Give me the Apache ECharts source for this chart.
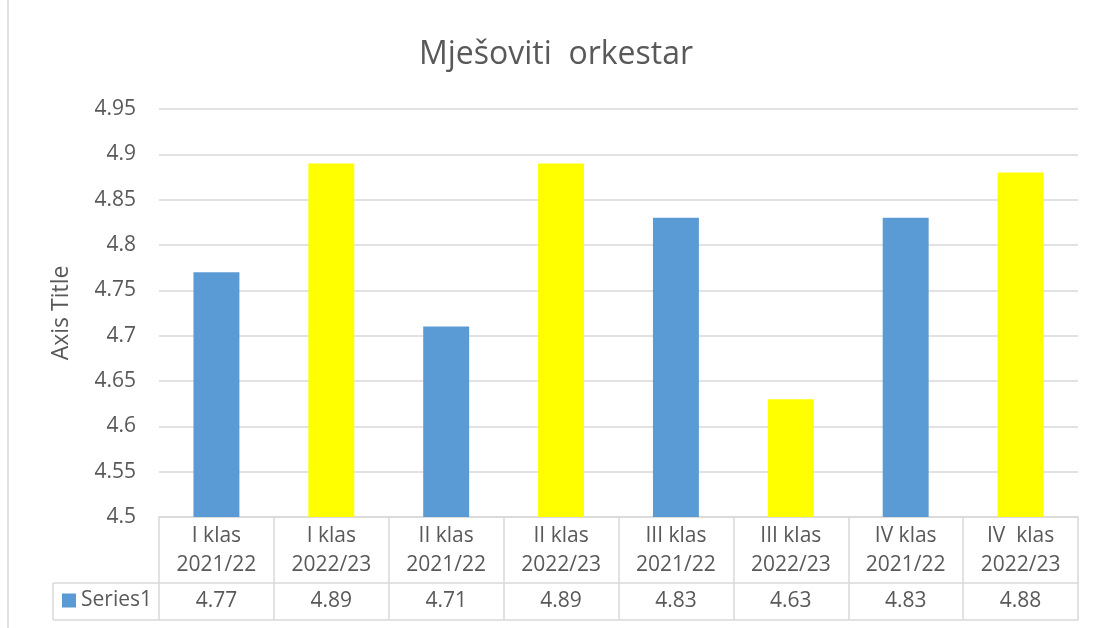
<!DOCTYPE html>
<html>
<head>
<meta charset="utf-8">
<script src="https://cdn.jsdelivr.net/npm/echarts@6/dist/echarts.min.js"></script>
<style>
html,body{margin:0;padding:0;background:#fff;}
#c{width:1094px;height:628px;}
</style>
</head>
<body>
<div id="c"></div>
<script>
const titleText = 'Mješoviti  orkestar';
const categories = ['I klas\n2021/22', 'I klas\n2022/23', 'II klas\n2021/22', 'II klas\n2022/23', 'III klas\n2021/22', 'III klas\n2022/23', 'IV klas\n2021/22', 'IV  klas\n2022/23'];
const values = [4.77, 4.89, 4.71, 4.89, 4.83, 4.63, 4.83, 4.88];
const seriesName = 'Series1';
const yMin = 4.5, yMax = 4.95, yStep = 0.05;

const FONT = '"Open Sans", sans-serif';
const TXT = '#595959';
const LINE = '#d9d9d9';
const BLUE = '#5B9BD5';
const YELLOW = '#FFFF00';

const chart = echarts.init(document.getElementById('c'), null, {renderer: 'canvas'});
chart.setOption({
  backgroundColor: '#ffffff',
  animation: false,
  textStyle: {fontFamily: FONT},
  title: {
    text: titleText,
    left: 556, top: 39, textAlign: 'center', padding: 0,
    textStyle: {fontFamily: FONT, fontSize: 32, fontWeight: 'normal', color: TXT}
  },
  legend: {
    data: [seriesName],
    left: 62, top: 590, padding: 0,
    icon: 'rect', itemWidth: 14, itemHeight: 14,
    textStyle: {fontFamily: FONT, fontSize: 21, color: TXT}
  },
  grid: {left: 159, right: 16, top: 109, height: 408},
  xAxis: [
    {
      type: 'category', data: categories, gridIndex: 0, position: 'bottom',
      axisLine: {show: true, lineStyle: {color: LINE, width: 1.5}},
      axisTick: {show: true, length: 103, lineStyle: {color: LINE, width: 1.5}},
      axisLabel: {fontFamily: FONT, fontSize: 21, lineHeight: 29, color: TXT, margin: 5, interval: 0}
    },
    {
      type: 'category', data: values.map(v => v.toFixed(2)), gridIndex: 0, position: 'bottom', offset: 66,
      axisLine: {show: true, lineStyle: {color: LINE, width: 1.5}},
      axisTick: {show: false},
      axisLabel: {fontFamily: FONT, fontSize: 21, lineHeight: 24, color: TXT, margin: 6, interval: 0}
    },
    {
      type: 'category', data: categories, gridIndex: 0, position: 'bottom', offset: 103,
      axisLine: {show: true, lineStyle: {color: LINE, width: 1.5}},
      axisTick: {show: false},
      axisLabel: {show: false}
    }
  ],
  yAxis: {
    type: 'value', min: yMin, max: yMax, interval: yStep,
    name: 'Axis Title', nameLocation: 'middle', nameRotate: 90, nameGap: 86,
    nameTextStyle: {fontFamily: FONT, fontSize: 23, color: TXT},
    axisLine: {show: false}, axisTick: {show: false},
    splitLine: {lineStyle: {color: LINE, width: 1.5}},
    axisLabel: {fontFamily: FONT, fontSize: 21, color: TXT, margin: 23,
      formatter: v => String(+v.toFixed(2))}
  },
  series: [{
    name: seriesName, type: 'bar', xAxisIndex: 0, data: values,
    barWidth: '40%',
    itemStyle: {color: p => (p.dataIndex === undefined ? BLUE : (p.dataIndex % 2 ? YELLOW : BLUE))},
    color: BLUE
  }],
  graphic: [
    {type: 'line', shape: {x1: 8, y1: 0, x2: 8, y2: 628}, style: {stroke: LINE, lineWidth: 1.5}, silent: true},
    {type: 'line', shape: {x1: 53, y1: 583, x2: 159, y2: 583}, style: {stroke: LINE, lineWidth: 1.5}, silent: true},
    {type: 'line', shape: {x1: 53, y1: 620, x2: 159, y2: 620}, style: {stroke: LINE, lineWidth: 1.5}, silent: true},
    {type: 'line', shape: {x1: 53, y1: 583, x2: 53, y2: 620}, style: {stroke: LINE, lineWidth: 1.5}, silent: true}
  ]
});
</script>
</body>
</html>
